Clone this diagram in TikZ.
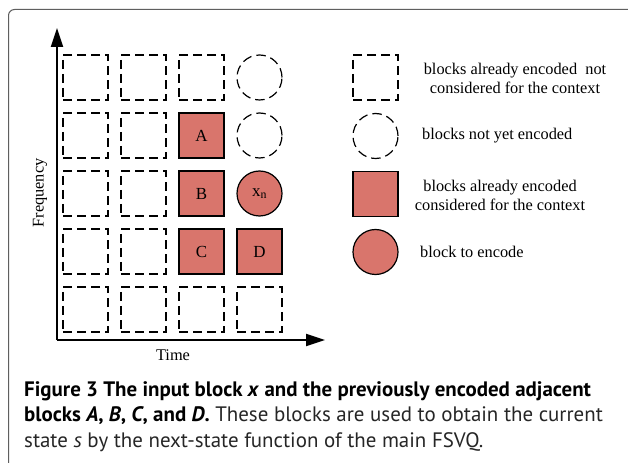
\documentclass[tikz,border=0pt]{standalone}
\usepackage{fontspec}
\setmainfont{Liberation Serif}
\newfontfamily\capfont{PT Sans}
\usetikzlibrary{arrows.meta}
\definecolor{blockred}{RGB}{217,117,108}
\definecolor{framegray}{RGB}{95,95,95}

\tikzset{
  txt/.style={font=\fontsize{16.4}{19}\selectfont, inner sep=0pt},
  oldblock/.style={draw, dash pattern=on 9bp off 5bp, line width=1.2bp,
    minimum size=45bp, inner sep=0pt},
  newblock/.style={circle, draw, dash pattern=on 9.5bp off 5bp, line width=1.2bp,
    minimum size=45bp, inner sep=0pt},
  ctxblock/.style={draw, fill=blockred, line width=1.2bp, minimum size=45bp,
    inner sep=0pt, font=\fontsize{17}{19}\selectfont},
  curblock/.style={circle, draw, fill=blockred, line width=1.2bp, minimum size=45bp,
    inner sep=0pt, font=\fontsize{17}{19}\selectfont},
  axis/.style={line width=2bp, -{Triangle[length=19bp,width=12bp]}},
  capline/.style={anchor=base west, inner sep=0pt,
    font=\capfont\fontsize{21}{25}\selectfont},
}

\begin{document}
\begin{tikzpicture}[x=1bp,y=-1bp]
\useasboundingbox (0,0) rectangle (628,463);
\fill[white] (0,0) rectangle (628,463);

% panel frame
\draw[framegray, line width=1bp, rounded corners=6bp] (8.5,463) -- (8.5,9.5) -- (628,9.5);

% grid of blocks: columns 1--4, rows 1--5 (top to bottom)
\foreach \c in {1,2} \foreach \r in {1,...,5}
  \node[oldblock] (b\c\r) at ({85.5+58*(\c-1)},{77.5+58*(\r-1)}) {};
\node[oldblock] (b31) at (201.5,77.5) {};
\node[ctxblock] (A) at (201.5,135.5) {A};
\node[ctxblock] (B) at (201.5,193.5) {B};
\node[ctxblock] (C) at (201.5,251.5) {C};
\node[oldblock] (b35) at (201.5,309.5) {};
\node[newblock] (b41) at (259.5,77.5) {};
\node[newblock] (b42) at (259.5,135.5) {};
\node[curblock] (X) at (259.5,193.5) {x\textsubscript{n}};
\node[ctxblock] (D) at (259.5,251.5) {D};
\node[oldblock] (b45) at (259.5,309.5) {};

% axes
\coordinate (O) at (57,340);
\coordinate (ftop) at (57,28);
\coordinate (tend) at (325,340);
\draw[axis] (O) -- (ftop);
\draw[axis] (O) -- (tend);
\node[txt, rotate=90] (freq) at (40,193) {Frequency};
\node[txt] (time) at (173,355) {Time};

% legend
\node[oldblock] (l1) at (375.5,77.5) {};
\node[newblock] (l2) at (375.5,136) {};
\node[ctxblock] (l3) at (375.5,194) {};
\node[curblock] (l4) at (375.5,252) {};
\node[txt, align=center] (t1) at (515,78) {blocks already encoded\ \ not\\considered for the context};
\node[txt, anchor=west] (t2) at (422,136) {blocks not yet encoded};
\node[txt, align=center] (t3) at (500,195) {blocks already encoded\\considered for the context};
\node[txt, anchor=west] (t4) at (420,252) {block to encode};

% caption
\node[capline] (cap1) at (24,396) {\textbf{Figure 3 The input block \textit{x} and the previously encoded adjacent}};
\node[capline, text=black!85] (cap2) at (24,421.5) {\textbf{\color{black}blocks \textit{A}, \textit{B}, \textit{C}, and \textit{D}.} These blocks are used to obtain the current};
\node[capline, text=black!85] (cap3) at (24,447) {state \textit{s} by the next-state function of the main FSVQ.};
\end{tikzpicture}
\end{document}
